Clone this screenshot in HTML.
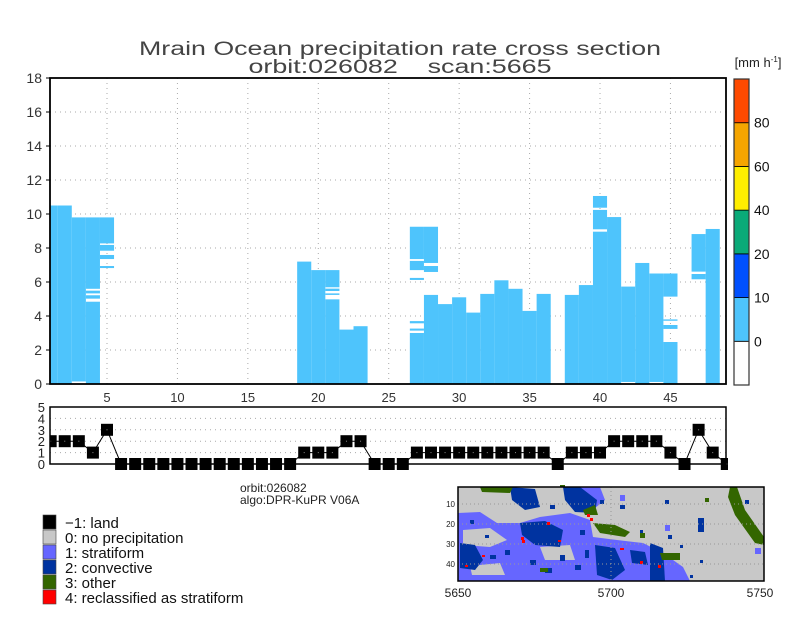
<!DOCTYPE html>
<html><head><meta charset="utf-8"><style>
html,body{margin:0;padding:0;background:#fff;}
svg{display:block;font-family:"Liberation Sans",sans-serif;}
</style></head><body>
<svg id="chart" width="800" height="618" viewBox="0 0 800 618" xmlns="http://www.w3.org/2000/svg">
<rect width="800" height="618" fill="#fff"/>
<text x="400" y="55" text-anchor="middle" font-size="19" fill="#444" textLength="522" lengthAdjust="spacingAndGlyphs">Mrain Ocean precipitation rate cross section</text>
<text x="400" y="73" text-anchor="middle" font-size="19" fill="#444" textLength="303" lengthAdjust="spacingAndGlyphs" xml:space="preserve">orbit:026082    scan:5665</text>
<g id="main"></g>
<g id="lower"></g>
<g id="cbar"></g>
<text x="758" y="67" text-anchor="middle" font-size="13" fill="#222">[mm h<tspan font-size="8" dy="-5">-1</tspan><tspan dy="5">]</tspan></text>
<text x="240" y="492" font-size="12" fill="#222">orbit:026082</text>
<text x="240" y="504" font-size="12" fill="#222">algo:DPR-KuPR V06A</text>
<g id="legend"></g>
<g id="map">
 <rect x="458" y="487" width="306" height="94" fill="#c8c8c8"/>
 <polygon fill="#6666ff" points="458,513 480,512 497,523 520,523 540,517 570,513 590,520 593,537 617,540 643,543 663,553 683,567 690,581 458,581"/>
 <polygon fill="#6666ff" points="568,487 600,487 605,500 590,512 572,505"/>
 <polygon fill="#c8c8c8" points="463,530 490,528 507,540 490,547 463,545"/>
 <polygon fill="#c8c8c8" points="540,547 570,545 575,560 545,560"/>
 <polygon fill="#c8c8c8" points="470,566 500,563 505,575 472,575"/>
 <polygon fill="#0033a0" points="520,523 545,521 563,530 560,547 535,545 522,535"/>
 <polygon fill="#0033a0" points="563,487 580,487 597,500 595,513 575,512 565,500"/>
 <polygon fill="#0033a0" points="460,543 475,545 483,560 475,570 460,568"/>
 <polygon fill="#0033a0" points="595,545 615,548 625,570 612,580 597,575"/>
 <polygon fill="#0033a0" points="650,543 663,548 665,581 650,581"/>
 <polygon fill="#0033a0" points="510,487 535,489 540,507 525,510 512,500"/>
 <polygon fill="#0033a0" points="630,550 645,552 648,565 632,563"/>
 <polygon fill="#0033a0" points="698,518 704,518 704,532 698,532"/>
 <g fill="#0033a0">
  <rect x="490" y="555" width="6" height="4"/><rect x="505" y="550" width="5" height="5"/><rect x="530" y="560" width="6" height="5"/><rect x="545" y="568" width="7" height="5"/><rect x="560" y="555" width="5" height="6"/><rect x="575" y="565" width="6" height="5"/><rect x="585" y="550" width="4" height="8"/><rect x="580" y="530" width="5" height="5"/><rect x="600" y="500" width="4" height="4"/><rect x="620" y="505" width="5" height="4"/><rect x="665" y="500" width="4" height="4"/><rect x="668" y="535" width="4" height="4"/><rect x="680" y="545" width="3" height="3"/><rect x="700" y="560" width="3" height="3"/><rect x="745" y="500" width="4" height="4"/><rect x="470" y="520" width="4" height="4"/><rect x="485" y="535" width="4" height="3"/><rect x="550" y="505" width="5" height="4"/><rect x="640" y="530" width="3" height="5"/><rect x="690" y="575" width="3" height="3"/>
 </g>
 <g fill="#6666ff"><rect x="665" y="525" width="5" height="6"/><rect x="755" y="548" width="6" height="6"/><rect x="620" y="495" width="5" height="6"/></g>
 <polygon fill="#336600" points="730,487 737,487 745,510 764,537 764,545 755,543 735,515 728,497"/>
 <polygon fill="#336600" points="593,523 615,525 630,532 625,537 600,533"/>
 <polygon fill="#336600" points="480,487 513,487 510,493 482,492"/>
 <polygon fill="#336600" points="660,553 680,553 680,560 662,560"/>
 <polygon fill="#336600" points="583,510 595,505 598,515 585,515"/>
 <g fill="#336600"><rect x="540" y="568" width="8" height="4"/><rect x="640" y="533" width="5" height="5"/><rect x="705" y="498" width="4" height="4"/><rect x="560" y="485" width="5" height="2"/></g>
 <g fill="#ff0000"><rect x="521" y="537" width="3" height="3"/><rect x="587" y="514" width="3" height="3"/><rect x="547" y="522" width="3" height="3"/><rect x="620" y="548" width="4" height="2"/><rect x="640" y="561" width="3" height="3"/><rect x="482" y="555" width="3" height="2"/><rect x="465" y="565" width="3" height="2"/><rect x="558" y="540" width="3" height="2"/><rect x="522" y="540" width="3" height="3"/><rect x="590" y="518" width="3" height="3"/><rect x="658" y="565" width="3" height="3"/></g>
 <g stroke="#999" stroke-dasharray="1,3" stroke-width="1"><line x1="458" y1="504" x2="764" y2="504"/><line x1="458" y1="524" x2="764" y2="524"/><line x1="458" y1="544" x2="764" y2="544"/><line x1="458" y1="564" x2="764" y2="564"/><line x1="611" y1="487" x2="611" y2="581"/></g>
 <rect x="458" y="487" width="306" height="94" fill="none" stroke="#000" stroke-width="1.5"/>
 <g font-size="8" fill="#222" text-anchor="end"><text x="455" y="507">10</text><text x="455" y="527">20</text><text x="455" y="547">30</text><text x="455" y="567">40</text></g>
 <g font-size="12" fill="#222" text-anchor="middle"><text x="458" y="597">5650</text><text x="611" y="597">5700</text><text x="760" y="597">5750</text></g>
</g>
</svg>
<script>
// ---- data ----
const binIndex = [1,2,3,4,5,6,7,8,9,10,11,12,13,14,15,16,17,18,19,20,21,22,23,24,25,26,27,28,29,30,31,32,33,34,35,36,37,38,39,40,41,42,43,44,45,46,47,48];
const precipSegments = [
 [[0,10.5]],[[0,10.5]],[[0.15,9.8]],[[0,4.84],[5.02,5.22],[5.33,5.49],[5.6,9.8]],[[6.82,6.94],[7.35,7.59],[7.84,8.18],[8.27,9.8]],
 [],[],[],[],[],[],[],[],[],[],[],[],[],
 [[0,7.2]],[[0,6.7]],[[0,4.98],[5.24,5.33],[5.47,5.61],[5.69,6.7]],[[0,3.2]],[[0,3.4]],[],[],[],
 [[0,3.0],[3.14,3.26],[3.57,3.7],[6.12,6.24],[6.7,7.24],[7.35,9.25]],[[0,5.24],[6.59,6.94],[7.12,9.25]],
 [[0,4.7]],[[0,5.1]],[[0,4.2]],[[0,5.3]],[[0,6.1]],[[0,5.6]],[[0,4.3]],[[0,5.3]],[],
 [[0,5.24]],[[0,5.82]],[[0,8.96],[9.1,10.24],[10.37,11.06]],[[0,9.82]],[[0.12,5.73]],[[0,7.12]],[[0.12,6.5]],[[0,2.47],[3.24,3.47],[3.72,3.8],[5.14,6.5]],[],
 [[6.16,6.47],[6.61,8.82]],[[0,9.12]]
];
const yTicks = [0,2,4,6,8,10,12,14,16,18];
const xTicks = [5,10,15,20,25,30,35,40,45];
const typeBins = [1,2,3,4,5,6,7,8,9,10,11,12,13,14,15,16,17,18,19,20,21,22,23,24,25,26,27,28,29,30,31,32,33,34,35,36,37,38,39,40,41,42,43,44,45,46,47,48,49];
const typeValues = [2,2,2,1,3,0,0,0,0,0,0,0,0,0,0,0,0,0,1,1,1,2,2,0,0,0,1,1,1,1,1,1,1,1,1,1,0,1,1,1,2,2,2,2,1,0,3,1,0];
const lowerTicks = [0,1,2,3,4,5];
const cbarLevels = [0,10,20,40,60,80];
const cbarColors = ["#ffffff","#4ec4fc","#0050ff","#0aaa78","#ffee00","#f5a500","#ff4a00"];
const legendLabels = ["\u22121: land","0: no precipitation","1: stratiform","2: convective","3: other","4: reclassified as stratiform"];
const legendColors = ["#000000","#c8c8c8","#6666ff","#0033a0","#336600","#ff0000"];

const NS="http://www.w3.org/2000/svg";
function mk(tag,attrs,parent){const e=document.createElementNS(NS,tag);for(const k in attrs)e.setAttribute(k,attrs[k]);parent.appendChild(e);return e;}
const L=50,R=726,T=78,B=384;
const xs=v=>107+(v-5)*14.086;
const ys=v=>B-(v/18)*(B-T);
const main=document.getElementById('main');
mk('clipPath',{id:'clipm'},main);
mk('rect',{x:L,y:T,width:R-L,height:B-T},document.getElementById('clipm'));
const grid=mk('g',{stroke:'#aaa','stroke-dasharray':'1,4','stroke-width':1},main);
yTicks.forEach(t=>{if(t>0&&t<18){const l=mk('line',{x1:L,x2:R,y1:ys(t),y2:ys(t)},grid);

}});
xTicks.forEach(t=>{const l=mk('line',{x1:xs(t),x2:xs(t),y1:T,y2:B},grid);

});
const bars=mk('g',{'clip-path':'url(#clipm)',fill:'#4ec4fc'},main);
binIndex.forEach((b,i)=>{precipSegments[i].forEach(s=>{
 const r=mk('rect',{x:xs(b-0.5),width:14.09,y:ys(s[1]),height:ys(s[0])-ys(s[1])},bars);
 
 
});});
mk('rect',{x:L,y:T,width:R-L,height:B-T,fill:'none',stroke:'#000','stroke-width':1.8},main);
yTicks.forEach(t=>{const tx=mk('text',{x:42,y:ys(t)+5,'text-anchor':'end','font-size':14,fill:'#333'},main);tx.textContent=t;


mk('line',{x1:L-4,x2:L,y1:ys(t),y2:ys(t),stroke:'#000'},main);});
xTicks.forEach(t=>{const tx=mk('text',{x:xs(t),y:402,'text-anchor':'middle','font-size':13,fill:'#333'},main);tx.textContent=t;

});

const lo=document.getElementById('lower');
const LT=407,LB=464;const ly=v=>LB-v*(LB-LT)/5;
mk('clipPath',{id:'clipl'},lo);
mk('rect',{x:L,y:LT-8,width:R-L+2,height:LB-LT+16},document.getElementById('clipl'));
const lg=mk('g',{stroke:'#aaa','stroke-dasharray':'1,4'},lo);
lowerTicks.forEach(t=>{if(t>0&&t<5){mk('line',{x1:L,x2:R,y1:ly(t),y2:ly(t)},lg);}});
const inner=mk('g',{'clip-path':'url(#clipl)'},lo);
const pts=typeBins.map((b,i)=>xs(b)+','+ly(typeValues[i])).join(' ');
const pl=mk('polyline',{points:pts,fill:'none',stroke:'#000','stroke-width':1},inner);


typeBins.forEach((b,i)=>{const r=mk('rect',{x:xs(b)-6,y:ly(typeValues[i])-6,width:12,height:12,fill:'#000'},inner);


mk('rect',{x:xs(b)-0.5,y:ly(typeValues[i])-0.5,width:1,height:1,fill:'#888'},inner);});
mk('rect',{x:L,y:LT,width:R-L,height:LB-LT,fill:'none',stroke:'#000','stroke-width':1.5},lo);
lowerTicks.forEach(t=>{const tx=mk('text',{x:45,y:ly(t)+5,'text-anchor':'end','font-size':13,fill:'#222'},lo);tx.textContent=t;

});

const cb=document.getElementById('cbar');
const CX=734,CW=15,CT=79,CB=385;const segH=(CB-CT)/7;
cbarColors.forEach((c,i)=>{const r=mk('rect',{x:CX,y:CB-(i+1)*segH,width:CW,height:segH,fill:c,stroke:'#000','stroke-width':0.8},cb);

});
mk('rect',{x:CX,y:CT,width:CW,height:CB-CT,fill:'none',stroke:'#333','stroke-width':1.2},cb);
cbarLevels.forEach((v,i)=>{const tx=mk('text',{x:754,y:CB-(i+1)*segH+5,'font-size':14,fill:'#111'},cb);tx.textContent=v;

});

const leg=document.getElementById('legend');
legendLabels.forEach((lab,i)=>{const y=515+i*15;
const r=mk('rect',{x:43,y:y,width:13,height:14,fill:legendColors[i],stroke:'#444','stroke-width':0.6},leg);


const tx=mk('text',{x:65,y:y+13,'font-size':15,fill:'#111'},leg);tx.textContent=lab;

});
</script>
</body></html>
